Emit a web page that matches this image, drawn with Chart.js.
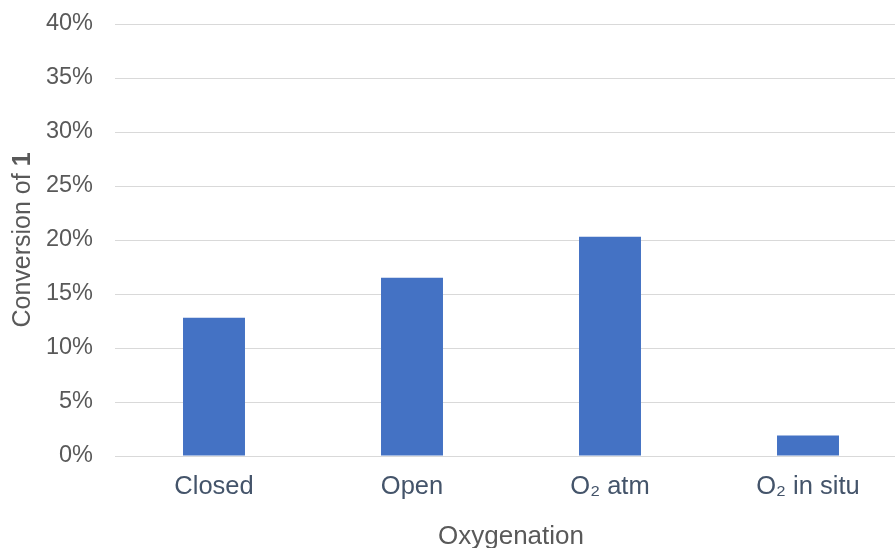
<!DOCTYPE html>
<html>
<head>
<meta charset="utf-8">
<script src="https://cdn.jsdelivr.net/npm/chart.js@4.4.1/dist/chart.umd.min.js"></script>
<style>
  html, body { margin: 0; padding: 0; background: #fff; overflow: hidden; }
  #wrap { width: 895px; height: 548px; overflow: hidden; }
</style>
</head>
<body>
<div id="wrap"><canvas id="convChart" width="907" height="548"></canvas></div>
<script>
const categories = ['Closed', 'Open', 'O\u2082 atm', 'O\u2082 in situ'];
const conversion = [12.8, 16.5, 20.3, 1.9];
const yTicks = [0, 5, 10, 15, 20, 25, 30, 35, 40];

const FONT = '"Liberation Sans", Arial, sans-serif';

// draws the axis titles (y title has a bold "1")
const axisTitles = {
    id: 'axisTitles',
    afterDraw(chart) {
        const ctx = chart.ctx;
        const area = chart.chartArea;
        ctx.save();
        ctx.fillStyle = '#595959';
        ctx.textBaseline = 'middle';
        ctx.textAlign = 'center';
        ctx.font = '26px ' + FONT;
        ctx.fillText('Oxygenation', 511, 537);

        ctx.translate(23, (area.top + area.bottom) / 2);
        ctx.rotate(-Math.PI / 2);
        const normal = '25px ' + FONT;
        const bold = 'bold 25px ' + FONT;
        ctx.font = normal;
        const w1 = ctx.measureText('Conversion of ').width;
        ctx.font = bold;
        const w2 = ctx.measureText('1').width;
        const start = -(w1 + w2) / 2;
        ctx.textAlign = 'left';
        ctx.font = normal;
        ctx.fillText('Conversion of ', start, 0);
        ctx.font = bold;
        ctx.fillText('1', start + w1, 0);
        ctx.restore();
    }
};

const ctx = document.getElementById('convChart').getContext('2d');
new Chart(ctx, {
    type: 'bar',
    data: {
        labels: categories,
        datasets: [{
            label: 'Conversion of 1',
            data: conversion,
            backgroundColor: '#4472C4',
            categoryPercentage: 1,
            barPercentage: 0.313
        }]
    },
    options: {
        responsive: false,
        animation: false,
        layout: { padding: { top: 24, left: 0, right: 0, bottom: 0 } },
        plugins: {
            legend: { display: false },
            tooltip: { enabled: false }
        },
        scales: {
            x: {
                grid: { display: false, drawTicks: false },
                border: { color: '#D9D9D9', width: 1 },
                ticks: {
                    color: '#44546A',
                    padding: 16,
                    maxRotation: 0,
                    font: { family: FONT, size: 25.5 }
                },
                afterFit(scale) {
                    scale.height = 92;
                    scale.paddingLeft = 0;
                    scale.paddingRight = 0;
                }
            },
            y: {
                min: 0,
                max: 40,
                afterBuildTicks(scale) { scale.ticks = yTicks.map(v => ({ value: v })); },
                grid: { color: '#D9D9D9', lineWidth: 1, drawTicks: false },
                border: { display: false },
                ticks: {
                    color: '#595959',
                    padding: 22,
                    font: { family: FONT, size: 23.5 },
                    callback: v => v + '%'
                },
                afterFit(scale) {
                    scale.width = 115;
                    scale.paddingTop = 0;
                    scale.paddingBottom = 0;
                }
            }
        }
    },
    plugins: [axisTitles]
});
</script>
</body>
</html>
